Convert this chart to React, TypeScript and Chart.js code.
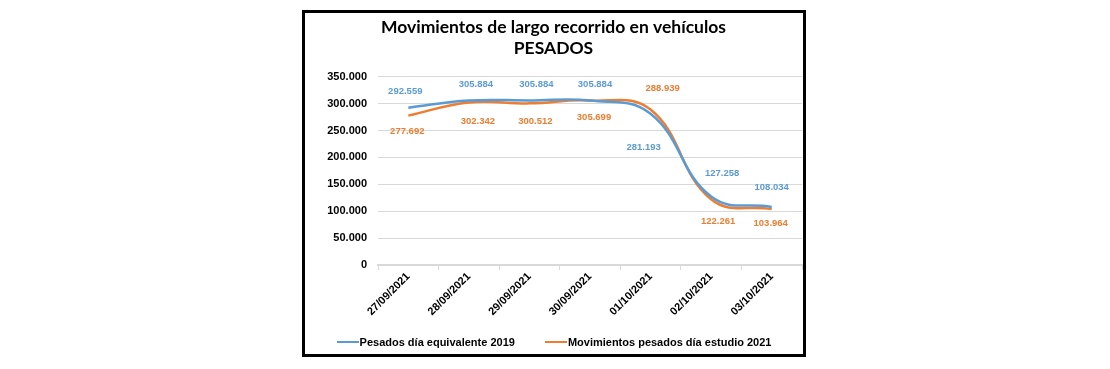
import React, { useEffect, useRef } from 'react';
import { Chart, registerables } from 'chart.js';

Chart.register(...registerables);

const categories = ['27/09/2021', '28/09/2021', '29/09/2021', '30/09/2021', '01/10/2021', '02/10/2021', '03/10/2021'];
const pesados2019 = [292559, 305884, 305884, 305884, 281193, 127258, 108034];
const pesados2021 = [277692, 302342, 300512, 305699, 288939, 122261, 103964];
const seriesNames = ['Pesados día equivalente 2019', 'Movimientos pesados día estudio 2021'];
const titleLines = ['Movimientos de largo recorrido en vehículos', 'PESADOS'];
const yMin = 0;
const yMax = 350000;
const yStep = 50000;

const BLUE = '#5b9bd5';
const ORANGE = '#ed7d31';

function fmt(v: number): string {
  return String(Math.round(v)).replace(/\B(?=(\d{3})+(?!\d))/g, '.');
}

// label offsets (dx, dy) relative to each point, per dataset
const labelOffsets = [
  [[-3, -16], [7, -16], [7, -16], [5, -16], [-7, 34], [11, -23], [0, -20]],
  [[-1, 16], [9, 19], [6, 18], [4, 17], [12, -21], [7, 22], [-1, 14]],
];

const valueLabels = {
  id: 'valueLabels',
  afterDatasetsDraw(chart: any, _args: any, opts: any) {
    const ctx = chart.ctx;
    chart.data.datasets.forEach((ds: any, i: number) => {
      const meta = chart.getDatasetMeta(i);
      const offs = opts.offsets[i];
      ctx.save();
      ctx.font = opts.font;
      ctx.fillStyle = ds.borderColor;
      ctx.textAlign = 'center';
      ctx.textBaseline = 'middle';
      meta.data.forEach((pt: any, j: number) => {
        ctx.fillText(fmt(ds.data[j]), pt.x + offs[j][0], pt.y + offs[j][1]);
      });
      ctx.restore();
    });
  },
};

export default function App() {
  const ref = useRef<HTMLCanvasElement>(null);

  useEffect(() => {
    const chart = new Chart(ref.current as HTMLCanvasElement, {
      type: 'line',
      data: {
        labels: categories,
        datasets: [
          {
            label: seriesNames[0],
            data: pesados2019,
            borderColor: BLUE,
            backgroundColor: BLUE,
            borderWidth: 2.5,
            pointRadius: 0,
            tension: 0.42,
            fill: false,
          },
          {
            label: seriesNames[1],
            data: pesados2021,
            borderColor: ORANGE,
            backgroundColor: ORANGE,
            borderWidth: 2.5,
            pointRadius: 0,
            tension: 0.42,
            fill: false,
          },
        ],
      },
      options: {
        responsive: false,
        animation: false,
        layout: { padding: { left: 0, right: 1, top: 0, bottom: 24 } },
        plugins: {
          legend: { display: false },
          tooltip: { enabled: false },
          title: {
            display: true,
            text: titleLines,
            color: '#000',
            font: { family: 'Lato', weight: 'bold', size: 17.5, lineHeight: 1.25 },
            padding: { top: 3, bottom: 17 },
          },
          valueLabels: {
            offsets: labelOffsets,
            font: 'bold 9.5px Arial, "Liberation Sans", sans-serif',
          },
        } as any,
        scales: {
          x: {
            type: 'category',
            offset: true,
            grid: {
              display: true,
              drawOnChartArea: false,
              drawTicks: true,
              tickLength: 5,
              color: '#d9d9d9',
              offset: true,
            },
            border: { display: true, color: '#d9d9d9', width: 2 },
            ticks: {
              minRotation: 45,
              maxRotation: 45,
              color: '#000',
              padding: 0,
              font: { family: 'Arial, "Liberation Sans"', weight: 'bold', size: 11 },
            },
            afterFit: (s: any) => {
              s.height = 65;
            },
          },
          y: {
            min: yMin,
            max: yMax,
            grid: { color: '#d9d9d9', drawTicks: false, lineWidth: 1 },
            border: { display: false },
            ticks: {
              stepSize: yStep,
              color: '#000',
              padding: 11,
              font: { family: 'Arial, "Liberation Sans"', weight: 'bold', size: 11 },
              callback: (v: any) => fmt(Number(v)),
            },
            afterFit: (s: any) => {
              s.width = 73;
            },
          },
        },
      },
      plugins: [valueLabels as any],
    });
    return () => chart.destroy();
  }, []);

  const legendItem = (color: string, text: string) => (
    <div style={{ display: 'flex', alignItems: 'center' }}>
      <span style={{ display: 'inline-block', width: 22, height: 2.5, background: color, marginRight: 1 }} />
      <span>{text}</span>
    </div>
  );

  return (
    <div
      style={{
        position: 'absolute',
        left: 302,
        top: 10,
        width: 504,
        height: 347,
        border: '3px solid #000',
        boxSizing: 'border-box',
        background: '#fff',
      }}
    >
      <canvas ref={ref} width={498} height={341} style={{ position: 'absolute', left: 0, top: 0 }} />
      <div
        style={{
          position: 'absolute',
          left: 0,
          right: 0,
          top: 322,
          height: 14,
          display: 'flex',
          justifyContent: 'center',
          alignItems: 'center',
          gap: 30,
          font: 'bold 11px Arial, "Liberation Sans", sans-serif',
          color: '#000',
          whiteSpace: 'nowrap',
        }}
      >
        {legendItem(BLUE, seriesNames[0])}
        {legendItem(ORANGE, seriesNames[1])}
      </div>
    </div>
  );
}
